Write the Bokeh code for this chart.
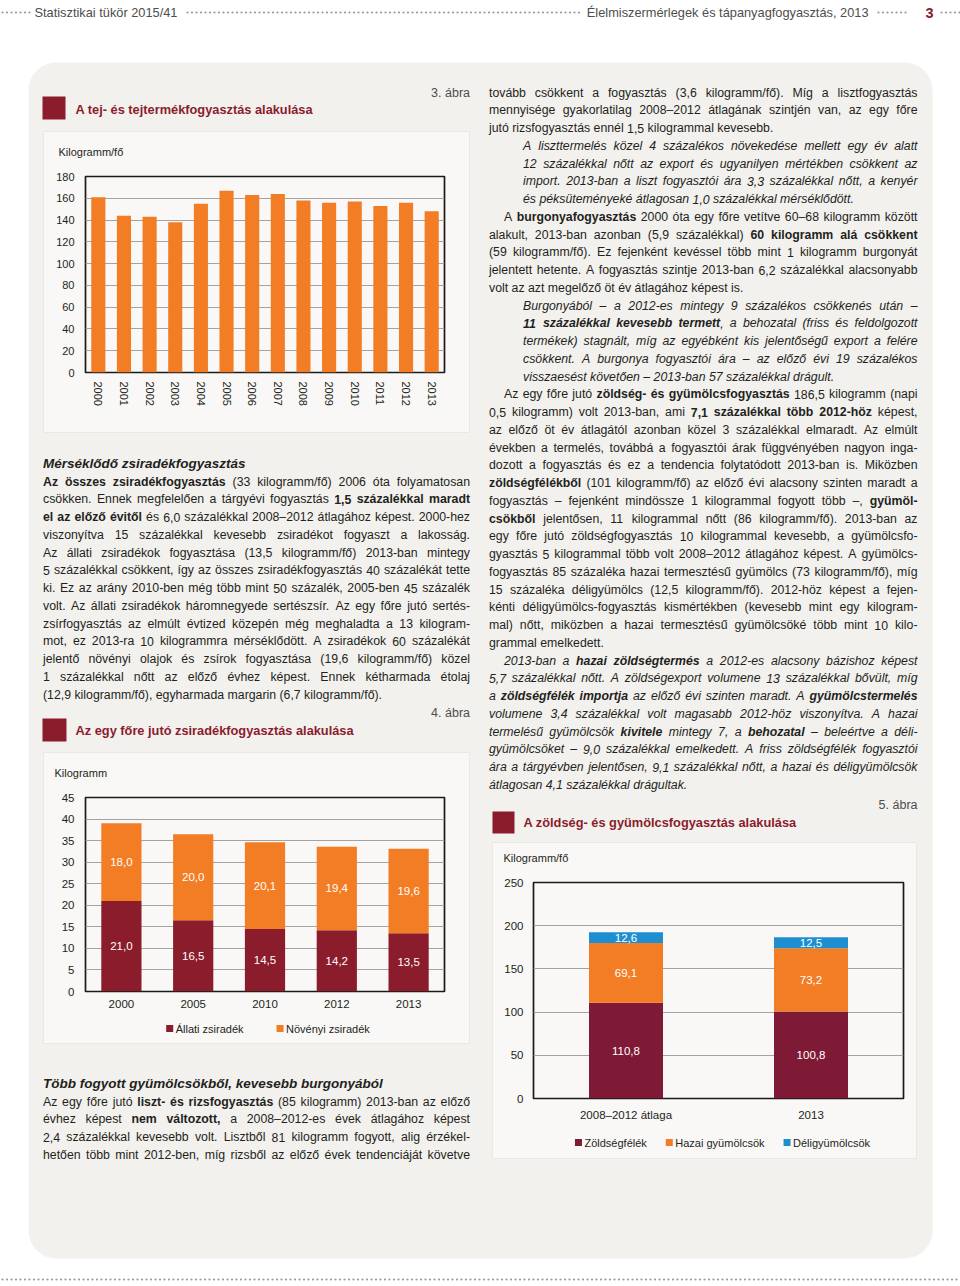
import unicodedata
import numpy as np
from bokeh.plotting import figure
from bokeh.models import (Range1d, FactorRange, FixedTicker, GridBox, ColumnDataSource)
from bokeh.core.properties import value, field
from bokeh.embed import file_html
from bokeh.resources import INLINE

# ---------------------------------------------------------------- data
years3 = ["2000", "2001", "2002", "2003", "2004", "2005", "2006",
          "2007", "2008", "2009", "2010", "2011", "2012", "2013"]
milk = [161, 144, 143, 138, 155, 167, 163, 164, 158, 156, 157, 153, 156, 148]
ticks3 = [0, 20, 40, 60, 80, 100, 120, 140, 160, 180]

years4 = ["2000", "2005", "2010", "2012", "2013"]
animal_fat = [21.0, 16.5, 14.5, 14.2, 13.5]
veg_fat = [18.0, 20.0, 20.1, 19.4, 19.6]
fat_series = ["Állati zsiradék", "Növényi zsiradék"]
ticks4 = [0, 5, 10, 15, 20, 25, 30, 35, 40, 45]

cats5 = ["2008–2012 átlaga", "2013"]
vegetables = [110.8, 100.8]
dom_fruit = [69.1, 73.2]
trop_fruit = [12.6, 12.5]
veg_series = ["Zöldségfélék", "Hazai gyümölcsök", "Déligyümölcsök"]
ticks5 = [0, 50, 100, 150, 200, 250]

# ---------------------------------------------------------------- style
FONT = "Liberation Sans"
TXT = "#231f20"
GREY = "#4d4d4d"
MAROON = "#8b1c2c"
MAROON5 = "#7e1a35"
ORANGE = "#f27d25"
BLUE = "#1d8fd0"
PANEL = "#f3f1ee"
INNER = "#f9f8f6"
GRIDC = "#a3a3a3"
PAGE_W, PAGE_H = 960, 1284

REGW = {' ': 278, '!': 278, '%': 889, '(': 333, ')': 333, ',': 278, '-': 333,
        '.': 278, '/': 278, ':': 278, ';': 278, '?': 556, '–': 556,
        'A': 667, 'B': 667, 'C': 722, 'D': 722, 'E': 667, 'F': 611, 'G': 778,
        'H': 722, 'I': 278, 'J': 500, 'K': 667, 'L': 556, 'M': 833, 'N': 722,
        'O': 778, 'P': 667, 'Q': 778, 'R': 722, 'S': 667, 'T': 611, 'U': 722,
        'V': 667, 'W': 944, 'X': 667, 'Y': 667, 'Z': 611,
        'a': 556, 'b': 556, 'c': 500, 'd': 556, 'e': 556, 'f': 278, 'g': 556,
        'h': 556, 'i': 222, 'j': 222, 'k': 500, 'l': 222, 'm': 833, 'n': 556,
        'o': 556, 'p': 556, 'q': 556, 'r': 333, 's': 500, 't': 278, 'u': 556,
        'v': 500, 'w': 722, 'x': 500, 'y': 500, 'z': 500}
BOLDW = {' ': 278, '!': 333, '%': 889, '(': 333, ')': 333, ',': 278, '-': 333,
         '.': 278, '/': 278, ':': 333, ';': 333, '?': 611, '–': 556,
         'A': 722, 'B': 722, 'C': 722, 'D': 722, 'E': 667, 'F': 611, 'G': 778,
         'H': 722, 'I': 278, 'J': 556, 'K': 722, 'L': 611, 'M': 833, 'N': 722,
         'O': 778, 'P': 667, 'Q': 778, 'R': 722, 'S': 667, 'T': 611, 'U': 722,
         'V': 667, 'W': 944, 'X': 667, 'Y': 667, 'Z': 611,
         'a': 556, 'b': 611, 'c': 556, 'd': 611, 'e': 556, 'f': 333, 'g': 611,
         'h': 611, 'i': 278, 'j': 278, 'k': 556, 'l': 278, 'm': 889, 'n': 611,
         'o': 611, 'p': 611, 'q': 611, 'r': 389, 's': 556, 't': 333, 'u': 611,
         'v': 556, 'w': 778, 'x': 556, 'y': 556, 'z': 500}


def tw(s, bold, size):
    tab = BOLDW if bold else REGW
    tot = 0
    for ch in s:
        if ch in "íÍ":
            w = 278
        elif ch.isdigit():
            w = 556
        else:
            w = tab.get(unicodedata.normalize("NFD", ch)[0], 556)
        tot += w
    return tot * size / 1000.0


def parse(line):
    runs = []
    bold = False
    for part in line.split("*"):
        if part:
            runs.append((part, bold))
        bold = not bold
    words = [[]]
    for text, b in runs:
        for j, pc in enumerate(text.split(" ")):
            if j > 0:
                words.append([])
            if pc:
                words[-1].append((pc, b))
    return [w for w in words if w]


RUNS = []


def place(line, x0, x1, y, size, italic, justify, color=TXT):
    words = parse(line)
    widths = [sum(tw(t, b, size) for t, b in w) for w in words]
    n = len(words)
    if justify and n > 1:
        gap = (x1 - x0 - sum(widths)) / (n - 1)
    else:
        gap = tw(" ", False, size)
    x = x0
    for i, (w, wd) in enumerate(zip(words, widths)):
        if justify and n > 1 and i == n - 1:
            xr = x1
            for t, b in reversed(w):
                RUNS.append((xr, y, t, b, italic, "right", size, color))
                xr -= tw(t, b, size)
        else:
            xx = x
            for t, b in w:
                RUNS.append((xx, y, t, b, italic, "left", size, color))
                xx += tw(t, b, size)
        x += wd + gap


# ---------------------------------------------------------------- texts
LEFT1 = [
    "*Az összes zsiradékfogyasztás* (33 kilogramm/fő) 2006 óta folyamatosan",
    "csökken. Ennek megfelelően a tárgyévi fogyasztás *1,5 százalékkal maradt*",
    "*el az előző évitől* és 6,0 százalékkal 2008–2012 átlagához képest. 2000-hez",
    "viszonyítva 15 százalékkal kevesebb zsiradékot fogyaszt a lakosság.",
    "Az állati zsiradékok fogyasztása (13,5 kilogramm/fő) 2013-ban mintegy",
    "5 százalékkal csökkent, így az összes zsiradékfogyasztás 40 százalékát tette",
    "ki. Ez az arány 2010-ben még több mint 50 százalék, 2005-ben 45 százalék",
    "volt. Az állati zsiradékok háromnegyede sertészsír. Az egy főre jutó sertés-",
    "zsírfogyasztás az elmúlt évtized közepén még meghaladta a 13 kilogram-",
    "mot, ez 2013-ra 10 kilogrammra mérséklődött. A zsiradékok 60 százalékát",
    "jelentő növényi olajok és zsírok fogyasztása (19,6 kilogramm/fő) közel",
    "1 százalékkal nőtt az előző évhez képest. Ennek kétharmada étolaj",
    "(12,9 kilogramm/fő), egyharmada margarin (6,7 kilogramm/fő).",
]
LEFT2 = [
    "Az egy főre jutó *liszt- és rizsfogyasztás* (85 kilogramm) 2013-ban az előző",
    "évhez képest *nem változott,* a 2008–2012-es évek átlagához képest",
    "2,4 százalékkal kevesebb volt. Lisztből 81 kilogramm fogyott, alig érzékel-",
    "hetően több mint 2012-ben, míg rizsből az előző évek tendenciáját követve",
]
RIGHT = [
    ("n", 1, "tovább csökkent a fogyasztás (3,6 kilogramm/fő). Míg a lisztfogyasztás"),
    ("n", 1, "mennyisége gyakorlatilag 2008–2012 átlagának szintjén van, az egy főre"),
    ("n", 0, "jutó rizsfogyasztás ennél 1,5 kilogrammal kevesebb."),
    ("ib", 1, "A liszttermelés közel 4 százalékos növekedése mellett egy év alatt"),
    ("ib", 1, "12 százalékkal nőtt az export és ugyanilyen mértékben csökkent az"),
    ("ib", 1, "import. 2013-ban a liszt fogyasztói ára 3,3 százalékkal nőtt, a kenyér"),
    ("ib", 0, "és péksüteményeké átlagosan 1,0 százalékkal mérséklődött."),
    ("nf", 1, "A *burgonyafogyasztás* 2000 óta egy főre vetítve 60–68 kilogramm között"),
    ("n", 1, "alakult, 2013-ban azonban (5,9 százalékkal) *60 kilogramm alá csökkent*"),
    ("n", 1, "(59 kilogramm/fő). Ez fejenként kevéssel több mint 1 kilogramm burgonyát"),
    ("n", 1, "jelentett hetente. A fogyasztás szintje 2013-ban 6,2 százalékkal alacsonyabb"),
    ("n", 0, "volt az azt megelőző öt év átlagához képest is."),
    ("ib", 1, "Burgonyából – a 2012-es mintegy 9 százalékos csökkenés után –"),
    ("ib", 1, "*11 százalékkal kevesebb termett*, a behozatal (friss és feldolgozott"),
    ("ib", 1, "termékek) stagnált, míg az egyébként kis jelentőségű export a felére"),
    ("ib", 1, "csökkent. A burgonya fogyasztói ára – az előző évi 19 százalékos"),
    ("ib", 0, "visszaesést követően – 2013-ban 57 százalékkal drágult."),
    ("nf", 1, "Az egy főre jutó *zöldség- és gyümölcsfogyasztás* 186,5 kilogramm (napi"),
    ("n", 1, "0,5 kilogramm) volt 2013-ban, ami *7,1 százalékkal több 2012-höz* képest,"),
    ("n", 1, "az előző öt év átlagától azonban közel 3 százalékkal elmaradt. Az elmúlt"),
    ("n", 1, "években a termelés, továbbá a fogyasztói árak függvényében nagyon inga-"),
    ("n", 1, "dozott a fogyasztás és ez a tendencia folytatódott 2013-ban is. Miközben"),
    ("n", 1, "*zöldségfélékből* (101 kilogramm/fő) az előző évi alacsony szinten maradt a"),
    ("n", 1, "fogyasztás – fejenként mindössze 1 kilogrammal fogyott több –, *gyümöl-*"),
    ("n", 1, "*csökből* jelentősen, 11 kilogrammal nőtt (86 kilogramm/fő). 2013-ban az"),
    ("n", 1, "egy főre jutó zöldségfogyasztás 10 kilogrammal kevesebb, a gyümölcsfo-"),
    ("n", 1, "gyasztás 5 kilogrammal több volt 2008–2012 átlagához képest. A gyümölcs-"),
    ("n", 1, "fogyasztás 85 százaléka hazai termesztésű gyümölcs (73 kilogramm/fő), míg"),
    ("n", 1, "15 százaléka déligyümölcs (12,5 kilogramm/fő). 2012-höz képest a fejen-"),
    ("n", 1, "kénti déligyümölcs-fogyasztás kismértékben (kevesebb mint egy kilogram-"),
    ("n", 1, "mal) nőtt, miközben a hazai termesztésű gyümölcsöké több mint 10 kilo-"),
    ("n", 0, "grammal emelkedett."),
    ("if", 1, "2013-ban a *hazai zöldségtermés* a 2012-es alacsony bázishoz képest"),
    ("i", 1, "5,7 százalékkal nőtt. A zöldségexport volumene 13 százalékkal bővült, míg"),
    ("i", 1, "a *zöldségfélék importja* az előző évi szinten maradt. A *gyümölcstermelés*"),
    ("i", 1, "volumene 3,4 százalékkal volt magasabb 2012-höz viszonyítva. A hazai"),
    ("i", 1, "termelésű gyümölcsök *kivitele* mintegy 7, a *behozatal* – beleértve a déli-"),
    ("i", 1, "gyümölcsöket – 9,0 százalékkal emelkedett. A friss zöldségfélék fogyasztói"),
    ("i", 1, "ára a tárgyévben jelentősen, 9,1 százalékkal nőtt, a hazai és déligyümölcsök"),
    ("i", 0, "átlagosan 4,1 százalékkal drágultak."),
]

BODY = 12.3
HEAD = 13.5
LH = 17.75
LEGF = 11.0

# ---------------------------------------------------------------- page figure
page = figure(width=PAGE_W, height=PAGE_H, x_range=Range1d(0, PAGE_W),
              y_range=Range1d(PAGE_H, 0), output_backend="svg",
              toolbar_location=None, title=None, min_border=0,
              x_axis_type=None, y_axis_type=None, outline_line_color=None,
              background_fill_color="white", border_fill_color="white")


def rounded(x0, y0, x1, y1, r, n=14):
    xs, ys = [], []
    for cx, cy, a0 in [(x1 - r, y0 + r, -90), (x1 - r, y1 - r, 0),
                       (x0 + r, y1 - r, 90), (x0 + r, y0 + r, 180)]:
        for a in np.linspace(a0, a0 + 90, n):
            xs.append(cx + r * np.cos(np.radians(a)))
            ys.append(cy + r * np.sin(np.radians(a)))
    return xs, ys


px, py = rounded(28, 62, 932, 1258, 28)
page.patch(px, py, fill_color=PANEL, line_color=None)

boxes = [(43, 469, 131, 432), (43, 469, 752, 1043), (492, 916, 842, 1158)]
page.quad(left=[b[0] for b in boxes], right=[b[1] for b in boxes],
          top=[b[2] for b in boxes], bottom=[b[3] for b in boxes],
          fill_color=INNER, line_color="#ebe8e4", line_width=1)

sq = [(42, 65, 96, 119), (42, 66, 718, 741), (492, 514, 811, 833)]
page.quad(left=[s[0] for s in sq], right=[s[1] for s in sq],
          top=[s[2] for s in sq], bottom=[s[3] for s in sq],
          fill_color=MAROON, line_color=None)

dot_x = np.concatenate([np.arange(2, 31, 4.5), np.arange(187, 580, 4.5),
                        np.arange(878, 908, 4.5), np.arange(941, 960, 4.5)])
page.scatter(x=dot_x, y=[12] * len(dot_x), size=2.2, marker="circle",
             fill_color="#9a9a9a", line_color=None)
foot_x = np.arange(2, 960, 4.5)
page.scatter(x=foot_x, y=[1279] * len(foot_x), size=2.2, marker="circle",
             fill_color="#9a9a9a", line_color=None)


# legends (drawn on the page, under the charts)
def page_legend(labels, colors, center_x, y, spacing):
    widths = [7 + 2.5 + tw(lb, False, LEGF) for lb in labels]
    total = sum(widths) + spacing * (len(labels) - 1)
    x = center_x - total / 2
    L, R, T, B, TX = [], [], [], [], []
    for lb, wd in zip(labels, widths):
        L.append(x)
        R.append(x + 7)
        T.append(y - 3.5)
        B.append(y + 3.5)
        TX.append(x + 9.5)
        x += wd + spacing
    page.quad(left=L, right=R, top=T, bottom=B, fill_color=colors, line_color=None)
    for lb, tx in zip(labels, TX):
        RUNS.append((tx, y, lb, False, False, "left", LEGF, TXT))


page_legend(fat_series, [MAROON, ORANGE], 267.5, 1028, 33)
page_legend(veg_series, [MAROON5, ORANGE, BLUE], 722, 1142, 19)

place("*Mérséklődő zsiradékfogyasztás*", 42.5, 469.5, 463, HEAD, True, False)
for i, ln in enumerate(LEFT1):
    place(ln, 42.5, 469.5, 481 + LH * i, BODY, False, i < len(LEFT1) - 1)
place("*Több fogyott gyümölcsökből, kevesebb burgonyából*", 42.5, 469.5, 1083, HEAD, True, False)
for i, ln in enumerate(LEFT2):
    place(ln, 42.5, 469.5, 1101 + LH * i, BODY, False, True)
X0 = {"n": 488.5, "nf": 503.5, "ib": 522.5, "if": 503.5, "i": 488.5}
for i, (kind, just, ln) in enumerate(RIGHT):
    place(ln, X0[kind], 917.0, 92 + LH * i, BODY, kind.startswith("i"), bool(just))

RUNS.append((34, 12, "Statisztikai tükör 2015/41", False, False, "left", 12.8, GREY))
RUNS.append((868, 12, "Élelmiszermérlegek és tápanyagfogyasztás, 2013", False, False, "right", 12.8, GREY))
RUNS.append((933, 12, "3", True, False, "right", 14.5, MAROON))
RUNS.append((75, 108.5, "A tej- és tejtermékfogyasztás alakulása", True, False, "left", 12.8, MAROON))
RUNS.append((75, 730, "Az egy főre jutó zsiradékfogyasztás alakulása", True, False, "left", 12.8, MAROON))
RUNS.append((523, 822, "A zöldség- és gyümölcsfogyasztás alakulása", True, False, "left", 12.8, MAROON))
RUNS.append((469.5, 92, "3. ábra", False, False, "right", 12.5, GREY))
RUNS.append((469.5, 712, "4. ábra", False, False, "right", 12.5, GREY))
RUNS.append((917, 804, "5. ábra", False, False, "right", 12.5, GREY))
RUNS.append((58, 151, "Kilogramm/fő", False, False, "left", 11, TXT))
RUNS.append((54, 772, "Kilogramm", False, False, "left", 11, TXT))
RUNS.append((503, 857, "Kilogramm/fő", False, False, "left", 11, TXT))

groups = {}
for (x, y, t, b, it, al, size, color) in RUNS:
    d = groups.setdefault((b, it, size, color), dict(x=[], y=[], text=[], align=[]))
    d["x"].append(x)
    d["y"].append(y)
    d["text"].append(t)
    d["align"].append(al)
for (b, it, size, color), d in groups.items():
    style = (("bold " if b else "") + ("italic" if it else "")).strip() or "normal"
    page.text(x="x", y="y", text="text", source=ColumnDataSource(d),
              text_align=field("align"), text_baseline="middle",
              text_font=value(FONT), text_font_size=value(f"{size}px"),
              text_font_style=style, text_color=color)


# ---------------------------------------------------------------- charts
def chart(w, h, xr, yr, lb, rb, tb, bb, ticks, lsize):
    p = figure(width=w, height=h, x_range=xr, y_range=yr, output_backend="svg",
               toolbar_location=None, title=None,
               min_border_left=lb, min_border_right=rb, min_border_top=tb,
               min_border_bottom=bb, background_fill_color=None,
               border_fill_color=None, outline_line_color="#1a1a1a",
               outline_line_width=1.7)
    p.xgrid.visible = False
    p.ygrid.grid_line_color = GRIDC
    p.ygrid.grid_line_width = 1
    p.yaxis.ticker = FixedTicker(ticks=ticks)
    for ax in (p.xaxis[0], p.yaxis[0]):
        ax.axis_line_color = None
        ax.major_tick_line_color = None
        ax.minor_tick_line_color = None
        ax.major_tick_out = 0
        ax.major_tick_in = 0
        ax.major_label_text_font = FONT
        ax.major_label_text_font_size = lsize
        ax.major_label_text_color = TXT
    return p


def fmt(v):
    return f"{v:.1f}".replace(".", ",")


# chart 3
c3 = chart(426, 301, FactorRange(factors=years3), Range1d(0, 180), 42, 25, 45, 60, ticks3, "11px")
c3.vbar(x=years3, top=milk, width=0.55, fill_color=ORANGE, line_color=None)
c3.xaxis.major_label_orientation = "vertical"
c3.xaxis.major_label_standoff = 9
c3.yaxis.major_label_standoff = 11

# chart 4
c4 = chart(426, 291, FactorRange(factors=years4), Range1d(0, 45), 35, 14, 45, 52, ticks4, "11.5px")
src4 = ColumnDataSource(dict(year=years4, animal=animal_fat, veg=veg_fat))
c4.vbar_stack(["animal", "veg"], x="year", width=0.56, color=[MAROON, ORANGE],
              line_color=None, source=src4)
a4 = np.array(animal_fat)
v4 = np.array(veg_fat)
lab4 = ColumnDataSource(dict(x=years4 + years4, y=list(a4 / 2) + list(a4 + v4 / 2),
                             t=[fmt(v) for v in animal_fat + veg_fat]))
c4.text(x="x", y="y", text="t", source=lab4, text_align="center", text_baseline="middle",
        text_color="white", text_font=value(FONT), text_font_size=value("11.5px"))
c4.xaxis.major_label_standoff = 8
c4.yaxis.major_label_standoff = 11

# chart 5
c5 = chart(424, 316, FactorRange(factors=cats5), Range1d(0, 250), 41, 13, 40, 60, ticks5, "11.5px")
src5 = ColumnDataSource(dict(cat=cats5, veg=vegetables, dom=dom_fruit, trop=trop_fruit))
c5.vbar_stack(["veg", "dom", "trop"], x="cat", width=0.4,
              color=[MAROON5, ORANGE, BLUE], line_color=None, source=src5)
vv = np.array(vegetables)
dd = np.array(dom_fruit)
tt = np.array(trop_fruit)
lab5 = ColumnDataSource(dict(x=cats5 * 3,
                             y=list(vv / 2) + list(vv + dd / 2) + list(vv + dd + tt / 2),
                             t=[fmt(v) for v in vegetables + dom_fruit + trop_fruit]))
c5.text(x="x", y="y", text="t", source=lab5, text_align="center", text_baseline="middle",
        text_color="white", text_font=value(FONT), text_font_size=value("11.5px"))
c5.xaxis.major_label_standoff = 10
c5.yaxis.major_label_standoff = 10

# ---------------------------------------------------------------- layout
grid = GridBox(children=[(page, 0, 0, 7, 5), (c3, 1, 1, 1, 1),
                         (c4, 3, 1, 2, 1), (c5, 4, 3, 2, 1)],
               rows=[f"{v}px" for v in [131, 301, 320, 90, 201, 115, 126]],
               cols=[f"{v}px" for v in [43, 426, 23, 424, 44]])

open("out.html", "w").write(file_html(grid, INLINE))
